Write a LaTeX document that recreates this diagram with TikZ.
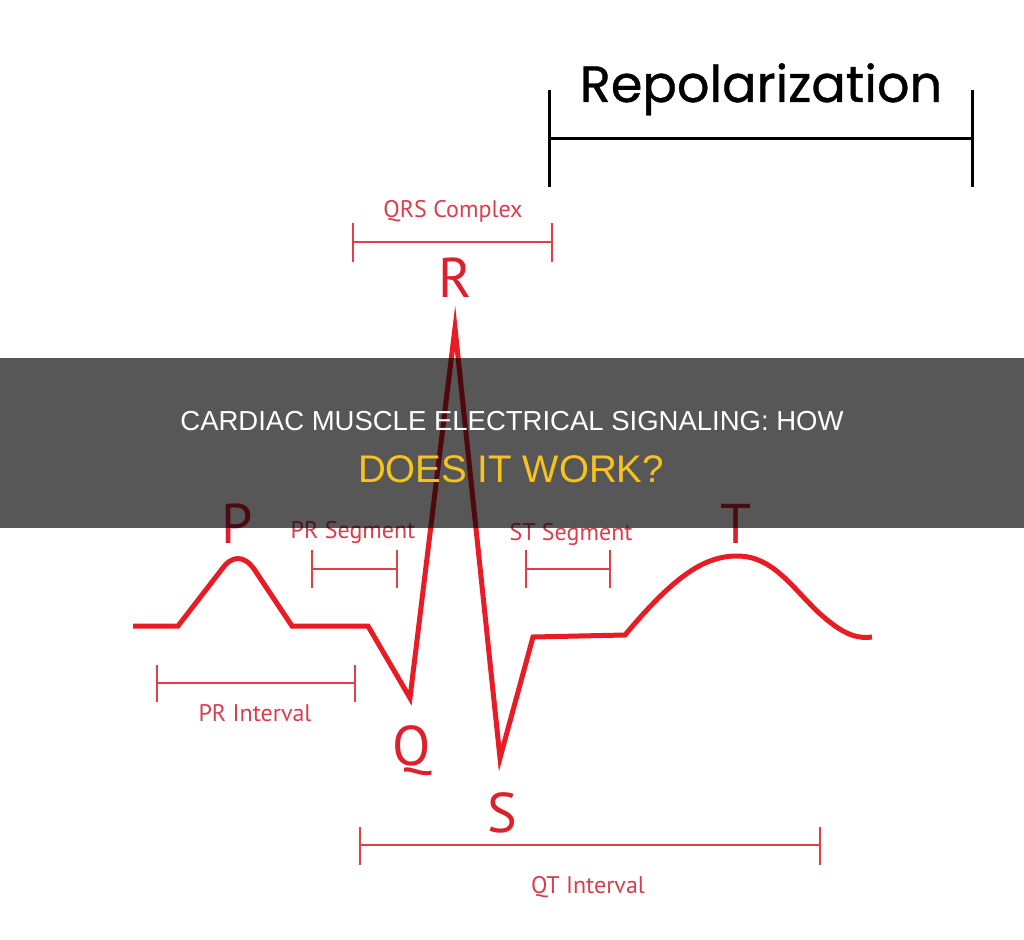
\documentclass[tikz,border=0pt]{standalone}
\usepackage{fontspec}
\setmainfont{PT Sans}
\newfontfamily\headfont{Liberation Sans}
\newfontfamily\repofont[FakeBold=0.7]{Poppins}
\usepackage{xcolor}
\usetikzlibrary{
    arrows.meta,
    positioning,
    calc
}
\definecolor{ecgRed}{RGB}{232,28,36}
\definecolor{waveRed}{RGB}{220,32,44}
\definecolor{labelRed}{RGB}{216,62,78}
\definecolor{spanRed}{RGB}{224,62,72}
\definecolor{bandGray}{RGB}{0,0,0}
\definecolor{titleYellow}{RGB}{247,196,30}
\tikzset{
  trace/.style   = {draw=ecgRed, line width=5pt, line join=miter, miter limit=25},
  span/.style    = {draw=spanRed, line width=2pt},
  repspan/.style = {draw=black, line width=3pt},
  wave/.style    = {text=waveRed, inner sep=0pt, anchor=base,
                    font=\fontsize{56}{60}\selectfont},
  seglabel/.style= {text=labelRed, inner sep=0pt, anchor=base,
                    font=\fontsize{24}{28}\selectfont},
  headline/.style= {inner sep=0pt, anchor=base}
}

\begin{document}
\begin{tikzpicture}[x=1pt, y=-1pt]
\useasboundingbox (0,0) rectangle (1024,939);
\fill[white] (0,0) rectangle (1024,939);

% ECG trace
\coordinate (start) at (133,626);
\coordinate (pL)    at (178,626);
\coordinate (pR)    at (292,626);
\coordinate (prEnd) at (368,626);
\coordinate (Qpt)   at (410,698);
\coordinate (Rpt)   at (455,328);
\coordinate (Spt)   at (500,758);
\coordinate (stL)   at (533,637);
\coordinate (stR)   at (625,635);
\coordinate (Tpk)   at (737,556);
\coordinate (tEnd)  at (872,637);
\draw[trace] (start) -- (pL) -- (222,569) .. controls (232,555) and (244,555) .. (254,569)
    -- (pR) -- (prEnd) -- (Qpt) -- (Rpt) -- (Spt) -- (stL) -- (stR)
    .. controls (675,575) and (705,556) .. (Tpk)
    .. controls (772,556) and (790,585) .. (818,612)
    .. controls (842,634) and (856,639) .. (tEnd);

% wave letters
\node[wave] (P) at (237,543) {P};
\node[wave] (R) at (455,297) {R};
\node[wave] (Q) at (412,765) {Q};
\node[wave] (S) at (502,832) {S};
\node[wave] (T) at (736,543) {T};

% QRS complex
\coordinate (qrsL) at (353,242);
\coordinate (qrsR) at (552,242);
\draw[span] (qrsL) -- (qrsR);
\draw[span] ([yshift=19pt]qrsL) -- ([yshift=-20pt]qrsL);
\draw[span] ([yshift=19pt]qrsR) -- ([yshift=-20pt]qrsR);
\node[seglabel] (qrs) at (453,217) {QRS Complex};

% PR segment
\coordinate (prsL) at (312,569);
\coordinate (prsR) at (397,569);
\draw[span] (prsL) -- (prsR);
\draw[span] ([yshift=19pt]prsL) -- ([yshift=-19pt]prsL);
\draw[span] ([yshift=19pt]prsR) -- ([yshift=-19pt]prsR);
\node[seglabel] (prs) at (353,538) {PR Segment};

% ST segment
\coordinate (stsL) at (526,569);
\coordinate (stsR) at (610,569);
\draw[span] (stsL) -- (stsR);
\draw[span] ([yshift=19pt]stsL) -- ([yshift=-19pt]stsL);
\draw[span] ([yshift=19pt]stsR) -- ([yshift=-19pt]stsR);
\node[seglabel] (sts) at (571,540) {ST Segment};

% PR interval
\coordinate (priL) at (157,683);
\coordinate (priR) at (355,683);
\draw[span] (priL) -- (priR);
\draw[span] ([yshift=18pt]priL) -- ([yshift=-19pt]priL);
\draw[span] ([yshift=18pt]priR) -- ([yshift=-19pt]priR);
\node[seglabel] (pri) at (255,721) {PR Interval};

% QT interval
\coordinate (qtiL) at (360,845);
\coordinate (qtiR) at (820,845);
\draw[span] (qtiL) -- (qtiR);
\draw[span] ([yshift=18pt]qtiL) -- ([yshift=-20pt]qtiL);
\draw[span] ([yshift=18pt]qtiR) -- ([yshift=-20pt]qtiR);
\node[seglabel] (qti) at (588,893) {QT Interval};

% repolarization
\coordinate (repL) at (549,138);
\coordinate (repR) at (972,138);
\draw[repspan] (repL) -- (repR);
\draw[repspan] ([yshift=48pt]repL) -- ([yshift=-49pt]repL);
\draw[repspan] ([yshift=48pt]repR) -- ([yshift=-49pt]repR);
\node[headline, font=\repofont\fontsize{51}{54}\selectfont] (rep) at (761,102) {Repolarization};

% title band
\fill[bandGray, opacity=0.66] (0,358) rectangle (1024,528);
\node[headline, text=white, font=\headfont\fontsize{27.5}{30}\selectfont]
    (title1) at (512,430) {CARDIAC MUSCLE ELECTRICAL SIGNALING: HOW};
\node[headline, text=titleYellow, font=\headfont\fontsize{38.5}{42}\selectfont]
    (title2) at (511,482) {DOES IT WORK?};
\end{tikzpicture}
\end{document}
